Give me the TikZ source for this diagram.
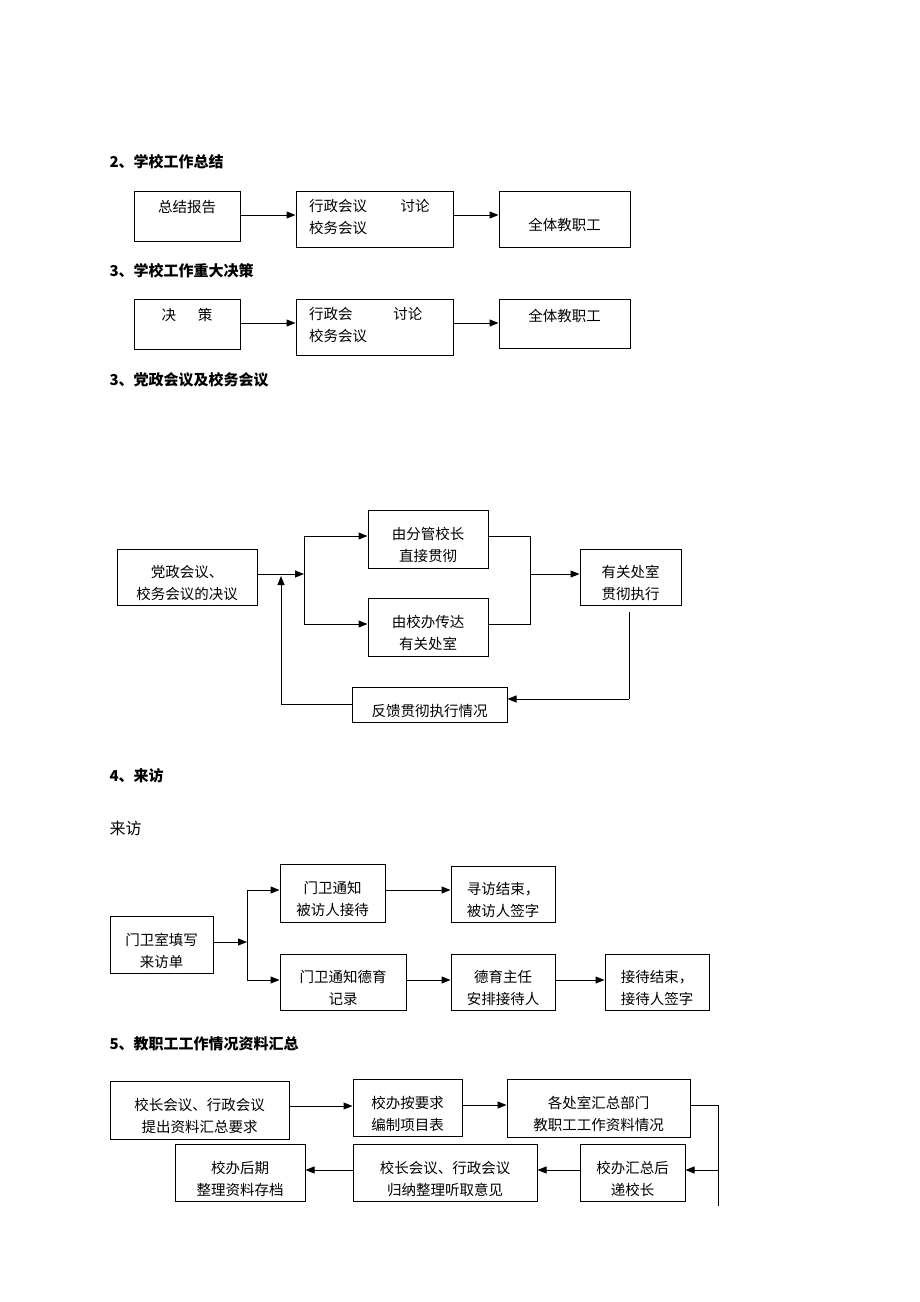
\documentclass[tikz,border=0pt]{standalone}
\usepackage{fontspec}
\setmainfont{Noto Sans CJK SC}
\usetikzlibrary{fit,arrows.meta}
\newcommand\bx[4]{\node[box,fit={#2 #3}] (#1) {}; \node[lbl] at ([yshift=-6pt]#1.center) {#4};}
\begin{document}
\begin{tikzpicture}[x=1pt,y=-1pt,
 box/.style={draw,line width=1pt,inner sep=0pt},
 lbl/.style={inner sep=0pt,align=center,font=\fontsize{14.5}{22}\selectfont},
 arr/.style={line width=1pt,-{Triangle[length=9pt,width=7pt]}},
 ln/.style={line width=1pt},
 hd/.style={anchor=west,font=\fontsize{15}{18}\selectfont\bfseries}]
\useasboundingbox (0,0) rectangle (920,1302);
\node[hd] (h2) at (106,162) {2、学校工作总结};
\node[box,fit={(134,191)(240,241)}] (A1) {};
\node[lbl,anchor=north,yshift=-10pt] at (A1.north) {总结报告};
\node[box,fit={(296,191)(453,247)}] (A2) {};
\node[lbl,anchor=north west,align=left] at (309,199) {行政会议\hspace{2.3em}讨论\\校务会议};
\bx{A3}{(499,191)}{(630,247)}{全体教职工}
\draw[arr] (240,215) coordinate (a1) -- (a1 -| A2.west);
\draw[arr] (453,215) coordinate (a2) -- (a2 -| A3.west);

\node[hd] (h3) at (106,271) {3、学校工作重大决策};
\node[box,fit={(134,299)(240,349)}] (B1) {};
\node[lbl,anchor=north,yshift=-10pt] at (B1.north) {决\hspace{1.5em}策};
\node[box,fit={(296,299)(453,355)}] (B2) {};
\node[lbl,anchor=north west,align=left] at (309,307) {行政会\hspace{2.8em}讨论\\校务会议};
\node[box,fit={(499,299)(630,348)}] (B3) {};
\node[lbl,anchor=north,yshift=-10pt] at (B3.north) {全体教职工};
\draw[arr] (240,323) coordinate (b1) -- (b1 -| B2.west);
\draw[arr] (453,323) coordinate (b2) -- (b2 -| B3.west);

\node[hd] (h4) at (106,380) {3、党政会议及校务会议};
\bx{C1}{(117,549)}{(257,605)}{党政会议、\\校务会议的决议}
\bx{C2}{(368,510)}{(488,568)}{由分管校长\\直接贯彻}
\bx{C3}{(368,598)}{(488,656)}{由校办传达\\有关处室}
\bx{C4}{(580,549)}{(681,605)}{有关处室\\贯彻执行}
\bx{C5}{(352,687)}{(507,722)}{反馈贯彻执行情况}
\coordinate (j1) at (304,574);
\draw[arr] (C1.east |- j1) -- (j1);
\draw[ln] (304,536) -- (304,624);
\draw[arr] (304,536) coordinate (c2) -- (c2 -| C2.west);
\draw[arr] (304,624) coordinate (c3) -- (c3 -| C3.west);
\draw[ln] (C2.east |- 0,536) -- (530,536) -- (530,624) -- (C3.east |- 0,624);
\draw[arr] (530,574) coordinate (j2) -- (j2 -| C4.west);
\draw[ln] (629,612) -- (629,699) coordinate (c4);
\draw[arr] (c4) -- (c4 -| C5.east);
\draw[arr] (C5.west) -- (281,704.5) -- (281,576);

\node[hd] (h5) at (106,776) {4、来访};
\node[anchor=west,font=\fontsize{16}{18}\selectfont] (t5) at (106,828) {来访};
\bx{D1}{(110,916)}{(213,973)}{门卫室填写\\来访单}
\bx{D2}{(280,864)}{(385,922)}{门卫通知\\被访人接待}
\bx{D3}{(451,866)}{(555,922)}{寻访结束，\\被访人签字}
\bx{D4}{(280,954)}{(406,1010)}{门卫通知德育\\记录}
\bx{D5}{(451,954)}{(555,1010)}{德育主任\\安排接待人}
\bx{D6}{(605,954)}{(709,1010)}{接待结束，\\接待人签字}
\draw[arr] (213,942) coordinate (d1) -- (247,942);
\draw[ln] (247,890) -- (247,980);
\draw[arr] (247,890) coordinate (d2) -- (d2 -| D2.west);
\draw[arr] (247,980) coordinate (d4) -- (d4 -| D4.west);
\draw[arr] (385,890) coordinate (d3) -- (d3 -| D3.west);
\draw[arr] (406,980) coordinate (d5) -- (d5 -| D5.west);
\draw[arr] (555,980) coordinate (d6) -- (d6 -| D6.west);

\node[hd] (h6) at (106,1044) {5、教职工工作情况资料汇总};
\bx{E1}{(110,1081)}{(289,1139)}{校长会议、行政会议\\提出资料汇总要求}
\bx{E2}{(353,1079)}{(462,1136)}{校办按要求\\编制项目表}
\bx{E3}{(507,1079)}{(690,1137)}{各处室汇总部门\\教职工工作资料情况}
\bx{E4}{(580,1144)}{(685,1201)}{校办汇总后\\递校长}
\bx{E5}{(353,1144)}{(537,1201)}{校长会议、行政会议\\归纳整理听取意见}
\bx{E6}{(175,1144)}{(305,1201)}{校办后期\\整理资料存档}
\draw[arr] (289,1106) coordinate (e1) -- (e1 -| E2.west);
\draw[arr] (462,1105) coordinate (e2) -- (e2 -| E3.west);
\draw[ln] (690,1105) -- (718,1105) -- (718,1206);
\draw[arr] (718,1170) coordinate (e3) -- (e3 -| E4.east);
\draw[arr] (580,1170) coordinate (e4) -- (e4 -| E5.east);
\draw[arr] (353,1170) coordinate (e5) -- (e5 -| E6.east);
\end{tikzpicture}
\end{document}
